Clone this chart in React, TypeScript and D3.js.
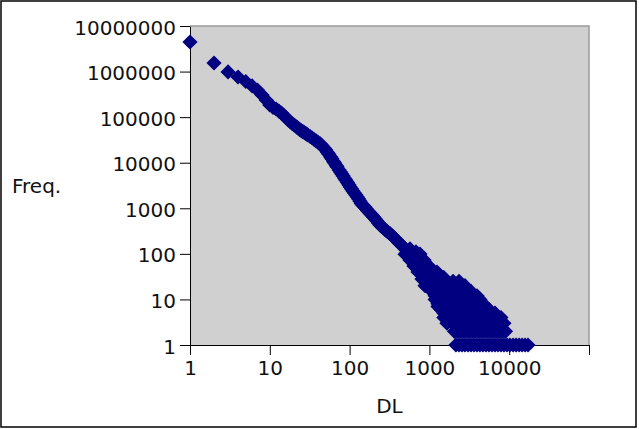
import React, { useRef, useEffect } from "react";
import * as d3 from "d3";

// main curve, one point per DL
const curveDL = [1, 2, 3, 4, 5, 6, 7, 8, 9, 10, 11, 12, 13, 14, 15, 16, 17, 18, 19, 20, 21, 22, 23, 24, 25, 26, 27, 28, 29, 30, 32, 34, 36, 38, 40, 43, 45, 48, 50, 53, 55, 58, 60, 63, 65, 68, 70, 74, 77, 80, 83, 87, 90, 94, 98, 102, 106, 110, 115, 120, 125, 130, 135, 140, 147, 155, 162, 170, 177, 185, 192, 200, 210, 220, 230, 240, 252, 265, 277, 290, 305, 320, 335, 350, 367, 385, 402, 420, 442, 465, 487, 510, 535, 560, 590, 620, 650, 680, 715, 750, 785, 820, 860, 900, 950, 1000];
const curveFreq = [4460000, 1540000, 980000, 760000, 606000, 483000, 394000, 306000, 238000, 185000, 163000, 151000, 136000, 123000, 109000, 97000, 86500, 79200, 72500, 68000, 63900, 59800, 55800, 52200, 50100, 48000, 46000, 44100, 42300, 40600, 37600, 34900, 32300, 30000, 28200, 25800, 23800, 21000, 19200, 16800, 15300, 13400, 12200, 10600, 9820, 8700, 8050, 6920, 6250, 5650, 5140, 4500, 4130, 3680, 3280, 2930, 2650, 2390, 2160, 1960, 1770, 1600, 1430, 1270, 1160, 1070, 966, 873, 809, 750, 695, 644, 582, 526, 475, 430, 398, 369, 342, 318, 298, 280, 259, 240, 220, 201, 187, 173, 158, 145, 133, 122, 111, 102, 93, 85, 79, 73, 67, 61, 56, 51, 48, 44, 40, 36];

// scatter around the curve where it widens
const spreadDL = [571, 679, 762, 856, 1018, 1245, 1480, 495, 571, 641, 720, 808, 881];
const spreadFreq = [128, 110, 99, 73, 51, 40, 30, 98, 73, 54, 40, 28, 20];

// low frequencies: DL values seen on each frequency row
const tailFreqs = [1, 2, 3, 4, 5, 6, 7, 8, 10, 12, 15, 20, 25, 30];
const tailDLs = [
  [2150, 2350, 2560, 2790, 3050, 3320, 3620, 3950, 4300, 4690, 5120, 5580, 6090, 6640, 7240, 7890, 8600, 9380, 10200, 11200, 12200, 13300, 14500, 15800, 17200],
  [2060, 2250, 2450, 2680, 2920, 3180, 3470, 3780, 4130, 4500, 4900, 5350, 5830, 6360, 6930, 7560, 8240, 8990],
  [1660, 1980, 2350, 2790, 3320, 3950, 4690, 5580, 6640, 7890, 8600],
  [1520, 1810, 2150, 2560, 3050, 3620, 4300, 5120, 6090, 7240, 7890],
  [1520, 1810, 2150, 2560, 3050, 3620, 4300, 5120, 6090, 6640],
  [1400, 1660, 1980, 2350, 2790, 3320, 3950, 4690, 5580],
  [1280, 1520, 1810, 2150, 2560, 3050, 3620, 4300, 5120],
  [1280, 1520, 1810, 2150, 2560, 3050, 3620, 4300, 4690],
  [1180, 1400, 1660, 1980, 2350, 2790, 3320, 3950, 4300],
  [1180, 1400, 1660, 1980, 2350, 2790, 3320, 3950],
  [1080, 1280, 1520, 1810, 2150, 2560, 3050, 3320],
  [990, 1180, 1400, 1660, 1980, 2350, 2790],
  [990, 1180, 1400, 1660, 1980, 2350],
  [910, 1080, 1280, 1520],
];

const xTicks = [1, 10, 100, 1000, 10000, 100000];
const yTicks = [1, 10, 100, 1000, 10000, 100000, 1000000, 10000000];

const W = 639;
const H = 429;
const FONT = "DejaVu Sans, sans-serif";

export default function App() {
  const svgRef = useRef(null);

  useEffect(() => {
    const svg = d3.select(svgRef.current);
    svg.selectAll("*").remove();

    const left = 190, right = 589, top = 26, bottom = 345;
    const x = d3.scaleLog().domain([1, 100000]).range([left, right]);
    const y = d3.scaleLog().domain([1, 10000000]).range([bottom, top]);

    // outer frame
    svg.append("rect")
      .attr("x", 1).attr("y", 1).attr("width", 635).attr("height", 426)
      .attr("fill", "white").attr("stroke", "#000").attr("stroke-width", 1.5);

    // plot area
    svg.append("rect")
      .attr("x", left).attr("y", top)
      .attr("width", right - left).attr("height", bottom - top)
      .attr("fill", "#d0d0d0");
    svg.append("path")
      .attr("d", `M${left},${top}H${right}V${bottom}`)
      .attr("fill", "none").attr("stroke", "#9a9a9a").attr("stroke-width", 1.5);

    const xAxis = svg.append("g")
      .attr("transform", `translate(0,${bottom})`)
      .call(
        d3.axisBottom(x).tickValues(xTicks).tickSize(10).tickSizeOuter(0).tickPadding(6)
          .tickFormat((d) => (d === 100000 ? "" : String(d)))
      );
    const yAxis = svg.append("g")
      .attr("transform", `translate(${left},0)`)
      .call(
        d3.axisLeft(y).tickValues(yTicks).tickSize(10).tickSizeOuter(0).tickPadding(4)
          .tickFormat((d) => String(d))
      );
    [xAxis, yAxis].forEach((g) => {
      g.attr("color", "#000").attr("font-family", FONT).attr("font-size", 20);
      g.selectAll("text").attr("fill", "#111");
    });
    yAxis.selectAll("text").attr("dy", "0.4em");

    svg.append("text")
      .attr("x", 12).attr("y", 193)
      .attr("font-family", FONT).attr("font-size", 20).attr("fill", "#111")
      .text("Freq.");
    svg.append("text")
      .attr("x", (left + right) / 2).attr("y", 413).attr("text-anchor", "middle")
      .attr("font-family", FONT).attr("font-size", 20).attr("fill", "#111")
      .text("DL");

    const points = [];
    curveDL.forEach((d, i) => points.push([d, curveFreq[i]]));
    spreadDL.forEach((d, i) => points.push([d, spreadFreq[i]]));
    tailFreqs.forEach((f, i) => tailDLs[i].forEach((d) => points.push([d, f])));

    // diamond = square turned 45 degrees
    const diamond = d3.symbol(d3.symbolSquare, 115.5)();
    svg.append("g")
      .selectAll("path")
      .data(points)
      .join("path")
      .attr("d", diamond)
      .attr("transform", (p) => `translate(${x(p[0])},${y(p[1])}) rotate(45)`)
      .attr("fill", "#000080");
  }, []);

  return (
    <svg
      ref={svgRef}
      width={W}
      height={H}
      style={{ position: "absolute", left: 0, top: 0, background: "white" }}
    />
  );
}
